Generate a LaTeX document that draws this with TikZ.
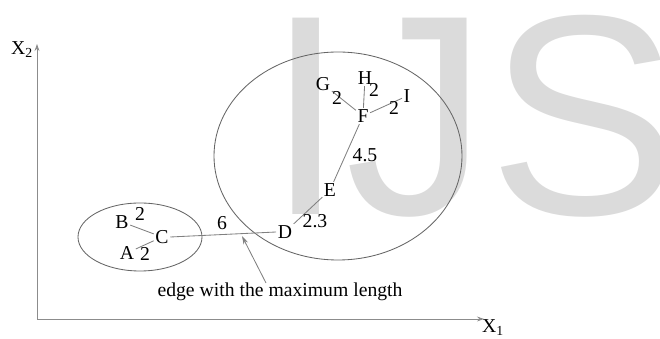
\documentclass[tikz,border=0pt]{standalone}
\usepackage{fontspec}
\setmainfont{Liberation Serif}
\newfontfamily\wmfont{Liberation Sans}
\usetikzlibrary{arrows.meta}

\begin{document}
\begin{tikzpicture}[x=0.025cm,y=-0.025cm,>=Stealth,
  font=\fontsize{14}{16}\selectfont,
  vtx/.style={inner sep=1pt},
  wt/.style={inner sep=0pt},
  lnk/.style={draw=black!50,line width=0.6pt},
  grp/.style={draw=black!60,line width=0.6pt},
  ax/.style={draw=black!45,line width=0.6pt,->,>={Stealth[length=5pt,width=3.5pt]}}]
\useasboundingbox (0,0) rectangle (660,339);
% watermark
\node[anchor=base west,inner sep=0pt,text=black!14,font=\wmfont\fontsize{203}{203}\selectfont] (wm) at (266,215) {IJS};
% axes
\coordinate (O) at (37,319);
\coordinate (yend) at (37,44);
\coordinate (xend) at (484,319);
\draw[ax] (O) -- (yend);
\draw[ax] (O) -- (xend);
\node[inner sep=0pt] (x2) at (22,50) {X\textsubscript{2}};
\node[inner sep=0pt] (x1) at (493,328) {X\textsubscript{1}};
% clusters
\draw[grp] (140,237) ellipse [x radius=62,y radius=34];
\draw[grp] (338,156) ellipse [x radius=124,y radius=104];
% vertices
\node[vtx] (A) at (127,253) {A};
\node[vtx] (B) at (122,222) {B};
\node[vtx] (C) at (162,237) {C};
\node[vtx] (D) at (285,232) {D};
\node[vtx] (E) at (330,190) {E};
\node[vtx] (F) at (363,116) {F};
\node[vtx] (G) at (323,84) {G};
\node[vtx] (H) at (365,78) {H};
\node[vtx] (I) at (407,96) {I};
% edges
\draw[lnk] (A) -- (C);
\draw[lnk] (B) -- (C);
\draw[lnk] (C.east) -- (D.west);
\draw[lnk] (D) -- (E);
\draw[lnk] (E) -- (F);
\draw[lnk] (F) -- (G);
\draw[lnk] (F) -- (H);
\draw[lnk] (F) -- (I);
% weights
\node[wt] (wAC) at (145,254) {2};
\node[wt] (wBC) at (140,214) {2};
\node[wt] (wCD) at (222,223) {6};
\node[wt] (wDE) at (315,221) {2.3};
\node[wt] (wEF) at (365,155) {4.5};
\node[wt] (wFG) at (337,98) {2};
\node[wt] (wFH) at (374,90) {2};
\node[wt] (wFI) at (394,108) {2};
% note
\node[inner sep=1pt] (note) at (280,292) {edge with the maximum length};
\coordinate (tip) at (242,236);
\draw[lnk,->,>={Stealth[length=6pt,width=3.5pt]}] (266,283) -- (tip);
\end{tikzpicture}
\end{document}
